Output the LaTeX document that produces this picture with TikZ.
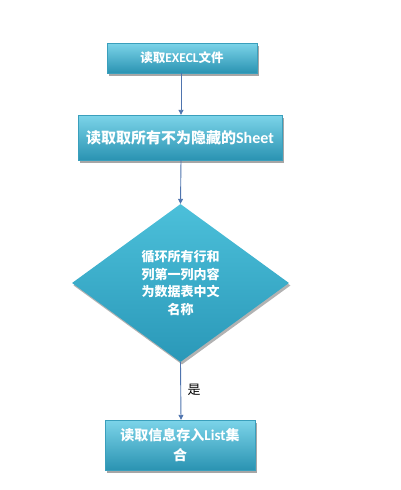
\documentclass[tikz,border=0pt]{standalone}
\usepackage{fontspec}
\newfontfamily\cjk{Noto Sans CJK SC}
\newfontfamily\lat{Carlito}
\usetikzlibrary{shapes.geometric,shadows,arrows.meta}
\definecolor{boxtop}{HTML}{7CD4E9}
\definecolor{boxmid}{HTML}{3DB6D3}
\definecolor{boxbot}{HTML}{2A93B2}
\definecolor{boxline}{HTML}{3A9FBC}
\definecolor{dtop}{HTML}{4CC0DA}
\definecolor{dmid}{HTML}{38B1CF}
\definecolor{dbot}{HTML}{2A98B8}
\definecolor{arrowc}{HTML}{4F74AE}
\begin{document}
\begin{tikzpicture}[x=1pt,y=-1pt,
  boxstyle/.style={rectangle, draw=boxline, line width=0.4pt, top color=boxtop, middle color=boxmid, bottom color=boxbot,
    drop shadow={shadow xshift=1.5pt,shadow yshift=-2.5pt,fill=black,opacity=0.35},
    text=white, align=center, inner sep=0pt},
  dstyle/.style={diamond, draw=none, top color=dtop, middle color=dmid, bottom color=dbot,
    drop shadow={shadow xshift=1.5pt,shadow yshift=-2.5pt,fill=black,opacity=0.3},
    text=white, align=center, inner sep=0pt},
  arr/.style={draw=arrowc, line width=0.9pt, -{Triangle[width=5pt,length=5pt]}},
  lab/.style={text=black, font=\cjk\fontsize{13}{15}\selectfont}]
\useasboundingbox (0,0) rectangle (401,490);
\node[boxstyle, minimum width=150pt, minimum height=30pt,
  font=\cjk\bfseries\fontsize{12.5}{14}\selectfont] (b1) at (182,58)
  {读取{\lat\bfseries\fontsize{13.5}{14}\selectfont EXECL}文件};
\node[boxstyle, minimum width=204pt, minimum height=45pt,
  font=\cjk\bfseries\fontsize{15}{18}\selectfont] (b2) at (180,137.5)
  {读取取所有不为隐藏的{\lat\bfseries\fontsize{16}{18}\selectfont Sheet}};
\node[dstyle, minimum width=217pt, minimum height=158pt,
  font=\cjk\bfseries\fontsize{13}{17.5}\selectfont] (d) at (180.5,283)
  {循环所有行和\\列第一列内容\\为数据表中文\\名称};
\node[boxstyle, minimum width=150pt, minimum height=50pt,
  font=\cjk\bfseries\fontsize{14}{20}\selectfont] (b3) at (180,445)
  {读取信息存入{\lat\bfseries\fontsize{15}{20}\selectfont List}集\\合};
\draw[arr] (b1.south -| 181,0) -- (b2.north -| 181,0);
\draw[arr] (b2.south -| 181,0) -- (d.north);
\draw[arr] (d.south) -- (b3.north -| 181,0) node[pos=0.48, right=3pt, lab] (l1) {是};
\end{tikzpicture}
\end{document}
